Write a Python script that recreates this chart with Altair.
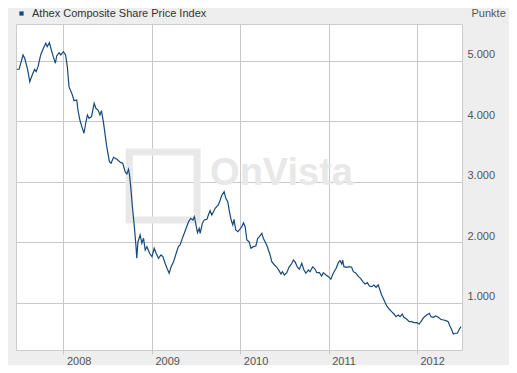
import altair as alt
import pandas as pd

# decimal year positions
t_dec = [
    2007.473, 2007.499, 2007.545, 2007.563, 2007.593, 2007.620, 2007.649, 2007.676, 2007.691, 2007.714,
    2007.744, 2007.782, 2007.801, 2007.819, 2007.842, 2007.864, 2007.887, 2007.910, 2007.925, 2007.951,
    2007.971, 2008.000, 2008.027, 2008.045, 2008.064, 2008.102, 2008.121, 2008.152, 2008.166, 2008.186,
    2008.208, 2008.234, 2008.253, 2008.271, 2008.291, 2008.317, 2008.347, 2008.367, 2008.393, 2008.415,
    2008.430, 2008.452,
    2008.491, 2008.520, 2008.540, 2008.566, 2008.604, 2008.649, 2008.672, 2008.698, 2008.717, 2008.735,
    2008.747, 2008.762, 2008.781, 2008.803, 2008.822, 2008.830, 2008.842, 2008.868, 2008.887, 2008.905,
    2008.924, 2008.943, 2008.973, 2009.000, 2009.026, 2009.049, 2009.075, 2009.102, 2009.124, 2009.150,
    2009.170, 2009.196, 2009.218, 2009.244, 2009.275, 2009.301, 2009.320, 2009.351, 2009.388, 2009.414,
    2009.441, 2009.464, 2009.482,
    2009.516, 2009.535, 2009.546, 2009.572, 2009.592, 2009.622, 2009.640, 2009.660, 2009.679, 2009.697,
    2009.716, 2009.753, 2009.773, 2009.792, 2009.818, 2009.837, 2009.860, 2009.878, 2009.897, 2009.916,
    2009.931, 2009.950, 2009.973, 2009.991, 2010.018, 2010.036, 2010.056, 2010.075, 2010.101, 2010.123,
    2010.149, 2010.176, 2010.199, 2010.217, 2010.244, 2010.262, 2010.282, 2010.301, 2010.319, 2010.338,
    2010.357, 2010.387, 2010.414, 2010.440, 2010.463, 2010.477, 2010.500, 2010.527, 2010.553, 2010.584,
    2010.602, 2010.621, 2010.647, 2010.670, 2010.697, 2010.723, 2010.745, 2010.771, 2010.790, 2010.821,
    2010.847, 2010.867, 2010.896, 2010.923, 2010.941, 2010.972, 2010.998, 2011.025, 2011.054, 2011.085,
    2011.111, 2011.130, 2011.149, 2011.161, 2011.175, 2011.206, 2011.235, 2011.262, 2011.281, 2011.311,
    2011.337, 2011.364, 2011.387, 2011.413, 2011.439, 2011.462, 2011.489, 2011.515, 2011.537, 2011.563,
    2011.583, 2011.602, 2011.631, 2011.658, 2011.688,
    2011.715, 2011.741, 2011.764, 2011.790, 2011.809, 2011.835, 2011.854, 2011.885, 2011.914, 2011.941,
    2011.967, 2011.998, 2012.027, 2012.054, 2012.080, 2012.111, 2012.140, 2012.160, 2012.186, 2012.213,
    2012.242, 2012.269, 2012.299, 2012.329, 2012.355, 2012.374, 2012.394, 2012.412, 2012.439, 2012.457,
    2012.480, 2012.499,
]

values = [
    4856, 4856, 5092, 5037, 4872, 4651, 4762, 4856, 4816, 4899,
    5092, 5229, 5285, 5229, 5295, 5174, 5064, 4955, 5075, 5130,
    5092, 5146, 5092, 4899, 4569, 4432, 4338, 4349, 4184, 4019,
    3909, 3800, 3965, 4102, 4047, 4074, 4295, 4212, 4184, 4102,
    4173, 3991,
    3579, 3331, 3305, 3404, 3371, 3315, 3305, 3166, 3128, 3206,
    3112, 2919, 2589, 2259, 1929, 1737, 2011, 2122, 1985, 2067,
    1874, 1929, 1820, 1764, 1902, 1820, 1737, 1792, 1764, 1655,
    1572, 1490, 1599, 1681, 1820, 1929, 1957, 2094, 2232, 2341,
    2397, 2369, 2424,
    2160, 2232, 2150, 2315, 2369, 2381, 2452, 2523, 2452, 2506,
    2562, 2617, 2699, 2782, 2836, 2727, 2671, 2506, 2369, 2287,
    2381, 2204, 2176, 2204, 2259, 2325, 2259, 2039, 2011, 1902,
    1929, 1940, 2067, 2094, 2150, 2067, 2011, 1957, 1874, 1792,
    1681, 1627, 1589, 1533, 1478, 1516, 1462, 1500, 1589, 1655,
    1709, 1681, 1589, 1556, 1655, 1544, 1490, 1544, 1516, 1599,
    1556, 1500, 1500, 1445, 1500, 1462, 1434, 1391, 1490, 1572,
    1665, 1698, 1643, 1709, 1599, 1589, 1599, 1589, 1516, 1490,
    1434, 1407, 1351, 1313, 1335, 1280, 1269, 1297, 1259, 1297,
    1214, 1132, 1038, 950, 896,
    856, 818, 774, 802, 774, 818, 764, 731, 691, 691,
    675, 675, 653, 708, 764, 802, 830, 774, 764, 785,
    764, 731, 719, 708, 691, 620, 554, 488, 500, 500,
    566, 609,
]

series_name = "Athex Composite Share Price Index"
y_ticks = [1000, 2000, 3000, 4000, 5000]
x_years = [2008, 2009, 2010, 2011, 2012]

wm_label = ["OnVista"]
wm_t = [2009.66]
wm_v = [2947]
logo_t = [2009.128]
logo_v = [2930]


def dec_to_date(d):
    y = int(d)
    start = pd.Timestamp(year=y, month=1, day=1)
    end = pd.Timestamp(year=y + 1, month=1, day=1)
    return (start + (end - start) * (d - y)).strftime("%Y-%m-%d")


df = pd.DataFrame({
    "date": [dec_to_date(t) for t in t_dec],
    "value": values,
    "series": series_name,
})
wm_df = pd.DataFrame({"date": [dec_to_date(t) for t in wm_t], "value": wm_v, "label": wm_label})
logo_df = pd.DataFrame({"date": [dec_to_date(t) for t in logo_t], "value": logo_v})

FONT = "Liberation Sans"

x_enc = alt.X(
    "date:T",
    title=None,
    scale=alt.Scale(domain=[alt.DateTime(year=2007, month=6, date=19),
                            alt.DateTime(year=2012, month=7, date=5)]),
    axis=alt.Axis(
        values=[alt.DateTime(year=y, month=1, date=1) for y in x_years],
        format="%Y", labelAlign="left", labelBaseline="top", labelOffset=3,
        labelPadding=1, tickSize=4, tickColor="#c8c8c8", domain=False,
        grid=True, gridColor="#c8c8c8", labelFont=FONT, labelFontSize=11,
        labelColor="#555555",
    ),
)
y_enc = alt.Y(
    "value:Q",
    scale=alt.Scale(domain=[224, 5603], nice=False, zero=False),
    axis=alt.Axis(
        orient="right", values=y_ticks,
        labelExpr="replace(format(datum.value, ',.0f'), ',', '.')",
        labelAlign="left", labelBaseline="alphabetic", labelOffset=-3,
        labelPadding=5, ticks=False, tickSize=0, domain=False,
        grid=True, gridColor="#c8c8c8", labelFont=FONT, labelFontSize=11,
        labelColor="#555555",
        title="Punkte", titleAngle=0, titleAlign="left", titleBaseline="alphabetic",
        titleX=9, titleY=-8, titleFont=FONT, titleFontSize=11,
        titleFontWeight="normal", titleColor="#555555",
    ),
)

logo = alt.Chart(logo_df).mark_point(
    shape="square", size=4600, filled=False, strokeWidth=7, color="#e8e8e8", opacity=1
).encode(x="date:T", y="value:Q")

wm = alt.Chart(wm_df).mark_text(
    font=FONT, fontSize=38, fontWeight="bold", color="#e8e8e8",
    align="left", baseline="alphabetic"
).encode(x="date:T", y="value:Q", text="label:N")

line = alt.Chart(df).mark_line(strokeWidth=1.2).encode(
    x=x_enc,
    y=y_enc,
    color=alt.Color(
        "series:N",
        scale=alt.Scale(range=["#174a7c"]),
        legend=alt.Legend(
            orient="none", legendX=0, legendY=-16, title=None,
            symbolType="square", symbolSize=3, symbolStrokeWidth=2.5,
            labelFont=FONT, labelFontSize=11, labelColor="#333333",
            labelOffset=5, labelLimit=0, padding=0,
        ),
    ),
)

chart = alt.layer(logo, wm, line).properties(
    width=446, height=326,
    autosize=alt.AutoSizeParams(type="none"),
    padding={"left": 8, "top": 16, "right": 47, "bottom": 15},
    background="#eeeeee",
).configure_view(stroke="#cccccc", fill="white")

chart.save("out.html", embed_options={"renderer": "svg", "actions": False})
